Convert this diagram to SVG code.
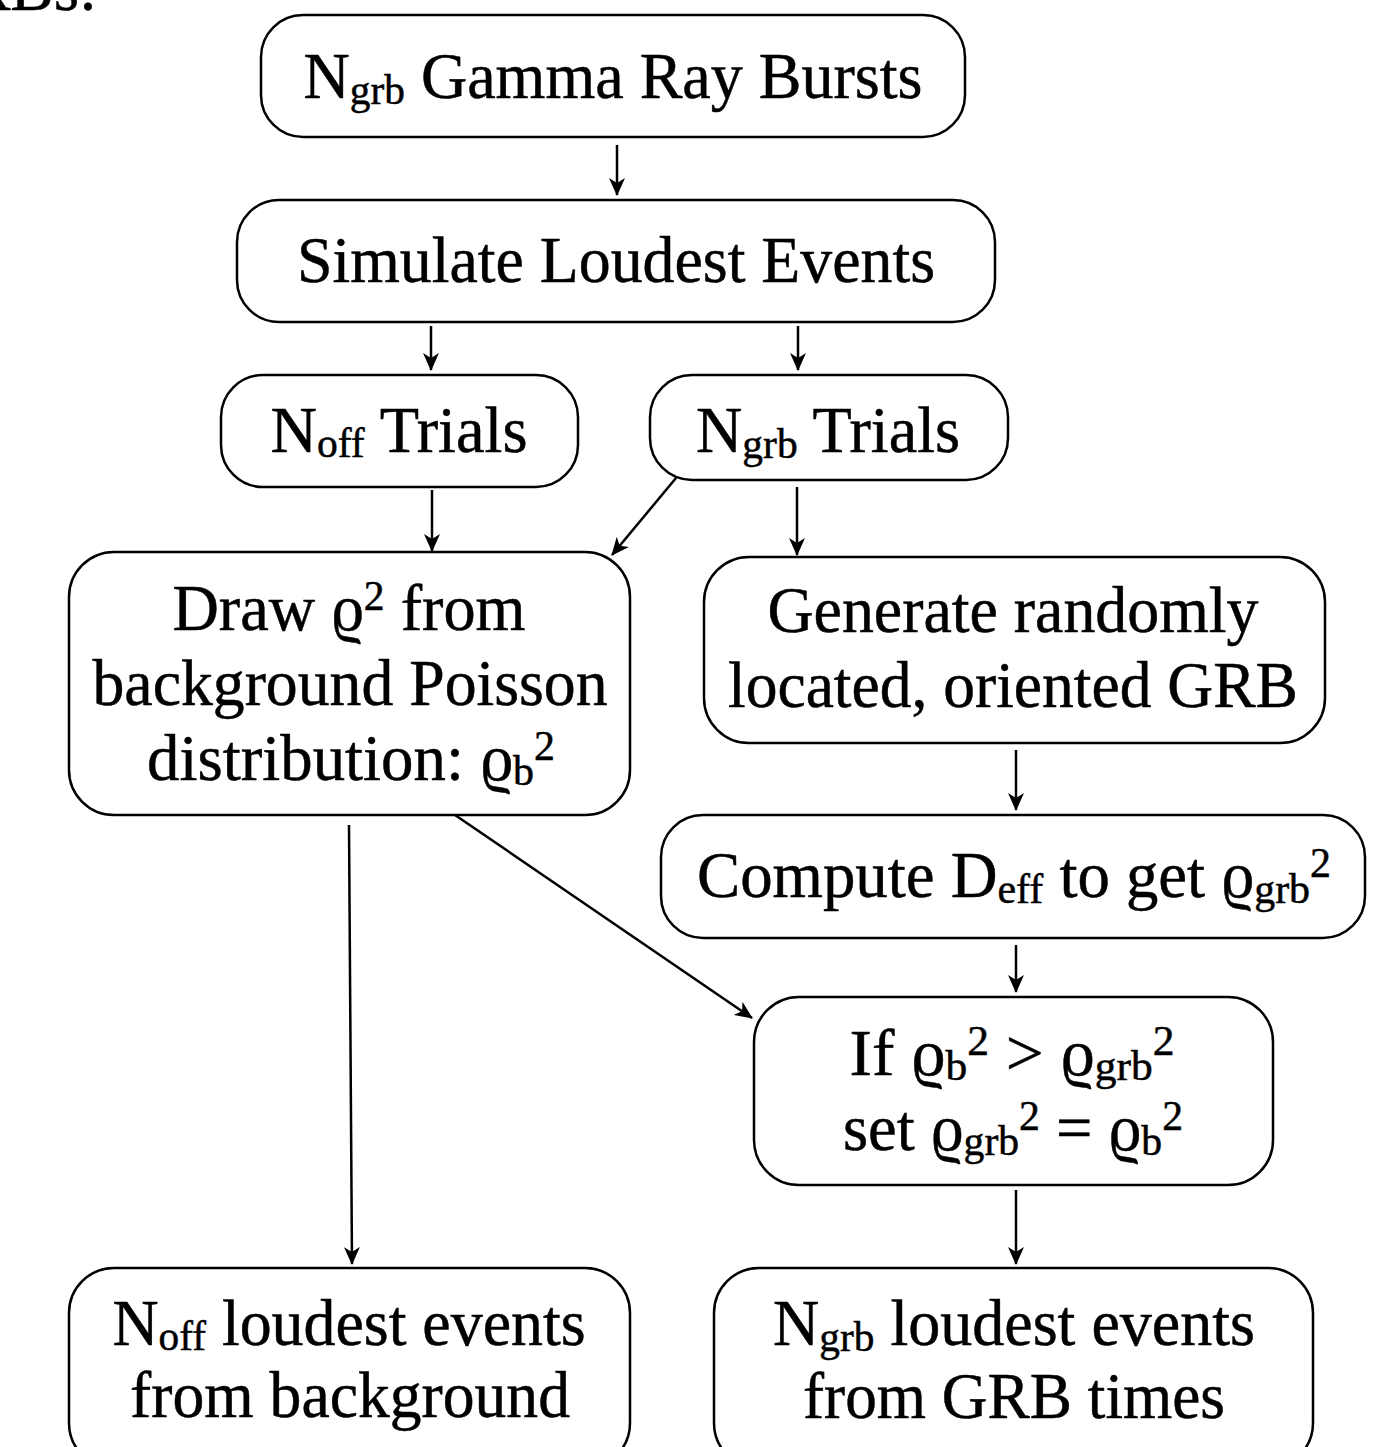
<svg xmlns="http://www.w3.org/2000/svg" width="1391" height="1447" viewBox="0 0 1391 1447">
<style>
.box{fill:#fff;stroke:#000;stroke-width:2.5}
.t{font-family:"Liberation Serif","Times New Roman",serif;font-size:65px;fill:#000;stroke:#000;stroke-width:0.5;text-anchor:middle}
.s{font-size:42px}
.c{stroke:#000;stroke-width:2.5;fill:none;marker-end:url(#ah)}
</style>
<defs>
<marker id="ah" viewBox="0 0 18 16" refX="17" refY="8" markerWidth="18" markerHeight="16" markerUnits="userSpaceOnUse" orient="auto">
<path d="M0,0 L18,8 L0,16 L5,8 Z" fill="#000"/>
</marker>
</defs>
<rect width="1391" height="1447" fill="#fff"/>
<text class="t" x="-80" y="10" style="text-anchor:start">GRBs:</text>

<g id="connectors">
<line class="c" x1="617" y1="145" x2="617" y2="195"/>
<line class="c" x1="431" y1="326" x2="431" y2="370"/>
<line class="c" x1="798" y1="326" x2="798" y2="370"/>
<line class="c" x1="432" y1="490" x2="432" y2="551"/>
<line class="c" x1="676" y1="478" x2="612" y2="555"/>
<line class="c" x1="797" y1="487" x2="797" y2="555"/>
<line class="c" x1="349" y1="825" x2="352" y2="1264"/>
<line class="c" x1="455" y1="815" x2="752" y2="1018"/>
<line class="c" x1="1016" y1="750" x2="1016" y2="810"/>
<line class="c" x1="1016" y1="945" x2="1016" y2="992"/>
<line class="c" x1="1016" y1="1190" x2="1016" y2="1264"/>
</g>

<g id="n1">
<rect class="box" x="261" y="15" width="704" height="122" rx="42"/>
<text class="t" x="613" y="98" textLength="619" lengthAdjust="spacingAndGlyphs">N<tspan class="s" dy="6">grb</tspan><tspan dy="-6"> Gamma Ray Bursts</tspan></text>
</g>
<g id="n2">
<rect class="box" x="237" y="200" width="758" height="122" rx="42"/>
<text class="t" x="616" y="282" textLength="638" lengthAdjust="spacingAndGlyphs">Simulate Loudest Events</text>
</g>
<g id="n3">
<rect class="box" x="221" y="375" width="357" height="112" rx="42"/>
<text class="t" x="399" y="452" textLength="257" lengthAdjust="spacingAndGlyphs">N<tspan class="s" dy="5">off</tspan><tspan dy="-5"> Trials</tspan></text>
</g>
<g id="n4">
<rect class="box" x="650" y="375" width="358" height="105" rx="42"/>
<text class="t" x="828" y="452" textLength="264" lengthAdjust="spacingAndGlyphs">N<tspan class="s" dy="6">grb</tspan><tspan dy="-6"> Trials</tspan></text>
</g>
<g id="n5">
<rect class="box" x="69" y="552" width="561" height="263" rx="45"/>
<text class="t" x="349" y="630" textLength="353" lengthAdjust="spacingAndGlyphs">Draw ϱ<tspan class="s" dy="-20">2</tspan><tspan dy="20"> from</tspan></text>
<text class="t" x="350" y="705" textLength="515" lengthAdjust="spacingAndGlyphs">background Poisson</text>
<text class="t" x="351" y="780" textLength="408" lengthAdjust="spacingAndGlyphs">distribution: ϱ<tspan class="s" dy="5">b</tspan><tspan class="s" dy="-25">2</tspan></text>
</g>
<g id="n6">
<rect class="box" x="704" y="557" width="621" height="186" rx="45"/>
<text class="t" x="1013" y="632" textLength="491" lengthAdjust="spacingAndGlyphs">Generate randomly</text>
<text class="t" x="1013" y="707" textLength="570" lengthAdjust="spacingAndGlyphs">located, oriented GRB</text>
</g>
<g id="n7">
<rect class="box" x="661" y="815" width="704" height="123" rx="42"/>
<text class="t" x="1014" y="897" textLength="634" lengthAdjust="spacingAndGlyphs">Compute D<tspan class="s" dy="6">eff</tspan><tspan dy="-6"> to get ϱ</tspan><tspan class="s" dy="6">grb</tspan><tspan class="s" dy="-26">2</tspan></text>
</g>
<g id="n8">
<rect class="box" x="754" y="997" width="519" height="188" rx="45"/>
<text class="t" x="1012" y="1075" textLength="325" lengthAdjust="spacingAndGlyphs">If ϱ<tspan class="s" dy="5">b</tspan><tspan class="s" dy="-25">2</tspan><tspan dy="20"> &gt; ϱ</tspan><tspan class="s" dy="5">grb</tspan><tspan class="s" dy="-25">2</tspan></text>
<text class="t" x="1013" y="1150" textLength="340" lengthAdjust="spacingAndGlyphs">set ϱ<tspan class="s" dy="5">grb</tspan><tspan class="s" dy="-25">2</tspan><tspan dy="20"> = ϱ</tspan><tspan class="s" dy="5">b</tspan><tspan class="s" dy="-25">2</tspan></text>
</g>
<g id="n9">
<rect class="box" x="69" y="1268" width="561" height="200" rx="45"/>
<text class="t" x="349" y="1345" textLength="473" lengthAdjust="spacingAndGlyphs">N<tspan class="s" dy="5">off</tspan><tspan dy="-5"> loudest events</tspan></text>
<text class="t" x="350" y="1417" textLength="440" lengthAdjust="spacingAndGlyphs">from background</text>
</g>
<g id="n10">
<rect class="box" x="714" y="1268" width="599" height="200" rx="45"/>
<text class="t" x="1014" y="1345" textLength="482" lengthAdjust="spacingAndGlyphs">N<tspan class="s" dy="6">grb</tspan><tspan dy="-6"> loudest events</tspan></text>
<text class="t" x="1014" y="1418" textLength="422" lengthAdjust="spacingAndGlyphs">from GRB times</text>
</g>
</svg>
